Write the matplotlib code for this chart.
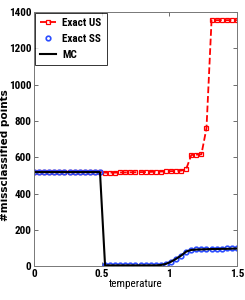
import matplotlib
matplotlib.use("Agg")
import matplotlib.pyplot as plt

plt.rcParams['font.family'] = ['Roboto Condensed', 'DejaVu Sans']

# temperature grid
temperature = [0.0, 0.0375, 0.075, 0.1125, 0.15, 0.1875, 0.225, 0.2625, 0.3, 0.3375,
               0.375, 0.4125, 0.45, 0.4875, 0.525, 0.5625, 0.6, 0.6375, 0.675, 0.7125,
               0.75, 0.7875, 0.825, 0.8625, 0.9, 0.9375, 0.975, 1.0125, 1.05, 1.0875,
               1.125, 1.1625, 1.2, 1.2375, 1.275, 1.3125, 1.35, 1.3875, 1.425, 1.4625, 1.5]

exact_us = [520, 520, 520, 520, 520, 520, 520, 520, 520, 520,
            520, 520, 520, 520, 515, 515, 515, 516, 516, 517,
            517, 518, 518, 519, 520, 521, 522, 523, 524, 526,
            535, 612, 614, 616, 760, 1355, 1355, 1355, 1355, 1355, 1355]

exact_ss = [520, 520, 520, 520, 520, 520, 520, 520, 520, 520,
            520, 520, 520, 520, 6, 6, 6, 6, 6, 6,
            6, 6, 6, 6, 6, 6, 12, 25, 40, 58,
            80, 90, 92, 93, 94, 95, 96, 96, 97, 98, 100]

mc = [518, 518, 518, 518, 518, 518, 518, 518, 518, 518,
      518, 518, 518, 518, 4, 4, 4, 4, 4, 4,
      4, 4, 4, 4, 4, 6, 12, 24, 40, 58,
      80, 89, 91, 92, 93, 94, 94, 95, 95, 96, 97]

fig = plt.figure(figsize=(2.45, 3.0), dpi=100)
ax = fig.add_axes([0.139, 0.113, 0.828, 0.847])

ax.plot(temperature, exact_us, '--s', color='red', lw=1.3, ms=3,
        mfc='none', mew=0.9, label='Exact US')
ax.plot(temperature, exact_ss, 'o', color='#2a4cff', ms=3.3,
        mfc='none', mew=1.2, label='Exact SS')
ax.plot(temperature, mc, '-', color='black', lw=1.5, label='MC')

ax.set_xlim(0, 1.5)
ax.set_ylim(0, 1400)
ax.set_xticks([0, 0.5, 1, 1.5])
ax.set_xticklabels(['0', '0.5', '1', '1.5'])
ax.set_yticks(range(0, 1401, 200))
ax.tick_params(direction='in', top=True, right=True, length=3, width=0.6,
               labelsize=8, pad=2, color='#555555')
for lab in ax.get_xticklabels() + ax.get_yticklabels():
    lab.set_fontweight('bold')
for s in ax.spines.values():
    s.set_color('#777777')
    s.set_linewidth(0.7)

ax.set_xlabel('temperature', fontsize=8, labelpad=0)
ax.set_ylabel('#missclassified points', fontsize=7.5, fontweight='bold',
              family=['DejaVu Sans'])
ax.yaxis.set_label_coords(-0.118, 0.435)

leg = ax.legend(loc='upper left', fontsize=8, frameon=True, fancybox=False,
                borderaxespad=0.1, handlelength=1.4, borderpad=0.45,
                labelspacing=0.55, handletextpad=0.6)
leg.get_frame().set_edgecolor('black')
leg.get_frame().set_linewidth(0.7)
for t in leg.get_texts():
    t.set_fontweight('bold')

fig.savefig('out.png', dpi=100)
